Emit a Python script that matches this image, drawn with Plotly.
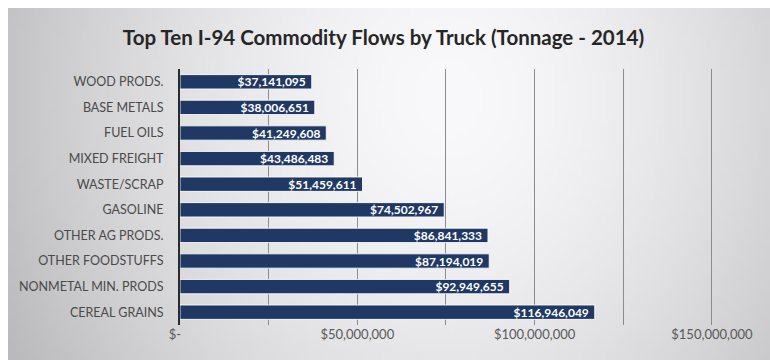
import base64
import struct
import zlib

import numpy as np
import plotly.graph_objects as go

# Commodity flows along I-94 (listed top to bottom as drawn)
commodities = [
    "WOOD PRODS.",
    "BASE METALS",
    "FUEL OILS",
    "MIXED FREIGHT",
    "WASTE/SCRAP",
    "GASOLINE",
    "OTHER AG PRODS.",
    "OTHER FOODSTUFFS",
    "NONMETAL MIN. PRODS",
    "CEREAL GRAINS",
]
values = [
    37141095,
    38006651,
    41249608,
    43486483,
    51459611,
    74502967,
    86841333,
    87194019,
    92949655,
    116946049,
]
tick_values = [0, 25e6, 50e6, 75e6, 100e6, 125e6, 150e6]
tick_labels = ["$-   ", "", "$50,000,000", "", "$100,000,000", "", "$150,000,000"]

W, H = 770, 360
L, R, T, B = 180, 57, 69, 35


def gradient_png(w, h):
    """Soft grey panel, bright towards the upper middle, darker at the edges."""
    xs = np.linspace(0, 1, w)
    ys = np.linspace(0, 1, h)
    X, Y = np.meshgrid(xs, ys)
    dx = np.where(X < 0.58, (X - 0.58) / 0.58, (X - 0.58) / 0.55)
    dy = (Y - 0.25) / 1.1
    f = np.clip(dx ** 2 + 0.6 * dy ** 2, 0, 1.4)
    v = 249 - 52 * f ** 0.8
    rgb = np.stack([v, v - 0.5, v + 1.5], axis=-1).clip(0, 255).astype(np.uint8)
    raw = b"".join(b"\x00" + rgb[r].tobytes() for r in range(h))

    def chunk(tag, data):
        c = struct.pack(">I", len(data)) + tag + data
        return c + struct.pack(">I", zlib.crc32(tag + data) & 0xFFFFFFFF)

    png = b"\x89PNG\r\n\x1a\n"
    png += chunk(b"IHDR", struct.pack(">IIBBBBB", w, h, 8, 2, 0, 0, 0))
    png += chunk(b"IDAT", zlib.compress(raw, 9))
    png += chunk(b"IEND", b"")
    return "data:image/png;base64," + base64.b64encode(png).decode()


plot_w = W - L - R
plot_h = H - T - B
# panel placement in paper coordinates (panel starts 8px in from top-left)
px0 = (8 - L) / plot_w
px1 = (W - L) / plot_w
py1 = (H - B - 8) / plot_h
py0 = (H - B - H) / plot_h

# value labels, with a little breathing room before the bar end
labels = ["${:,}\u00a0".format(v) for v in values]

fig = go.Figure(
    go.Bar(
        x=values,
        y=commodities,
        orientation="h",
        marker=dict(color="#1f3864", line=dict(color="rgba(255,255,255,0.85)", width=1)),
        text=labels,
        textposition="inside",
        insidetextanchor="end",
        textangle=0,
        insidetextfont=dict(family="Lato", size=12, color="white", weight="bold"),
        hoverinfo="skip",
    )
)

fig.update_layout(
    width=W,
    height=H,
    margin=dict(l=L, r=R, t=T, b=B, pad=0),
    paper_bgcolor="white",
    plot_bgcolor="rgba(0,0,0,0)",
    bargap=0.44,
    showlegend=False,
    uniformtext=dict(minsize=12, mode="show"),
    title=dict(
        text="<b>Top Ten I-94 Commodity Flows by Truck (Tonnage - 2014)</b>",
        x=0.498,
        xanchor="center",
        y=1 - 38 / H,
        yanchor="middle",
        font=dict(family="Lato", size=20.5, color="#262626"),
    ),
    xaxis=dict(
        range=[0, 150.3e6],
        tickvals=tick_values,
        ticktext=tick_labels,
        showgrid=True,
        gridcolor="#8c8c8c",
        gridwidth=1,
        zeroline=False,
        showline=False,
        ticks="",
        tickfont=dict(family="Lato", size=13, color="#595959"),
        fixedrange=True,
    ),
    yaxis=dict(
        autorange="reversed",
        showline=True,
        linecolor="#2b2b2b",
        linewidth=2,
        showgrid=False,
        ticks="",
        ticklabelstandoff=12,
        tickfont=dict(family="Lato", size=12.5, color="#4a4a4a"),
        fixedrange=True,
    ),
    images=[
        dict(
            source=gradient_png(160, 72),
            xref="paper",
            yref="paper",
            x=px0,
            y=py1,
            sizex=px1 - px0,
            sizey=py1 - py0,
            xanchor="left",
            yanchor="top",
            sizing="stretch",
            layer="below",
        )
    ],
)

fig.write_html("out.html")
